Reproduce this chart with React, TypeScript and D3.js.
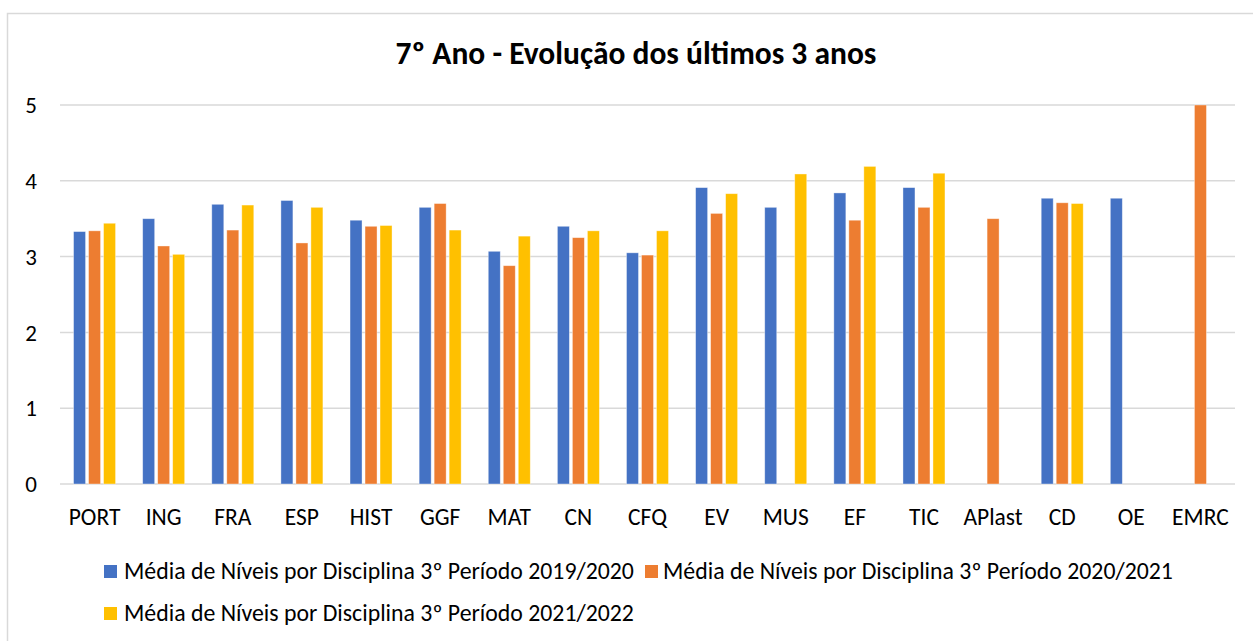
import React from "react";
import * as d3 from "d3";

const categories = ["PORT", "ING", "FRA", "ESP", "HIST", "GGF", "MAT", "CN", "CFQ", "EV", "MUS", "EF", "TIC", "APlast", "CD", "OE", "EMRC"];
const series2019 = [3.33, 3.50, 3.69, 3.74, 3.48, 3.65, 3.07, 3.40, 3.05, 3.91, 3.65, 3.84, 3.91, null, 3.77, 3.77, null];
const series2020 = [3.34, 3.14, 3.35, 3.18, 3.40, 3.70, 2.88, 3.25, 3.02, 3.57, null, 3.48, 3.65, 3.50, 3.71, null, 5.0];
const series2021 = [3.44, 3.03, 3.68, 3.65, 3.41, 3.35, 3.27, 3.34, 3.34, 3.83, 4.09, 4.19, 4.10, null, 3.70, null, null];
const seriesNames = [
  "Média de Níveis por Disciplina 3º Período 2019/2020",
  "Média de Níveis por Disciplina 3º Período 2020/2021",
  "Média de Níveis por Disciplina 3º Período 2021/2022",
];
const seriesColors = ["#4472C4", "#ED7D31", "#FFC000"];
const yTicks = [0, 1, 2, 3, 4, 5];
const title = "7º Ano - Evolução dos últimos 3 anos";

const FONT = "Calibri, Carlito, Lato, 'Open Sans', sans-serif";

export default function App() {
  const W = 1253, H = 641;
  const plotLeft = 60, plotRight = 1235, plotTop = 105, plotBottom = 484;
  const x = d3.scaleBand<string>().domain(categories).range([plotLeft, plotRight]).padding(0);
  const y = d3.scaleLinear().domain([0, 5]).range([plotBottom, plotTop]);
  const keys = ["a", "b", "c"];
  const xs = d3.scaleBand<string>().domain(keys).range([-21, 21]).paddingInner(0.2);
  const allSeries = [series2019, series2020, series2021];

  return (
    <svg width={W} height={H} style={{ position: "absolute", left: 0, top: 0, background: "#fff" }}>
      <rect x={0} y={0} width={W} height={H} fill="#fff" />
      <path d={`M7.5,${H} V13.5 H${W}`} fill="none" stroke="#d9d9d9" strokeWidth={1.5} />
      <text x={636} y={64} textAnchor="middle" fontFamily={FONT} fontWeight="bold" fontSize={31.5} fill="#000">{title}</text>
      {yTicks.map((t) => (
        <g key={t}>
          <line x1={plotLeft} x2={plotRight} y1={y(t)} y2={y(t)} stroke="#d9d9d9" strokeWidth={1.5} />
          <text x={37} y={y(t)} dy="0.36em" textAnchor="end" fontFamily={FONT} fontSize={23} fill="#000">{t}</text>
        </g>
      ))}
      {allSeries.map((s, si) => (
        <g key={si}>
          {s.map((v, i) =>
            v == null ? null : (
              <rect
                key={i}
                x={(x(categories[i]) as number) + x.bandwidth() / 2 + (xs(keys[si]) as number)}
                y={y(v)}
                width={xs.bandwidth()}
                height={y(0) - y(v)}
                fill={seriesColors[si]}
                stroke="#fff"
                strokeOpacity={0.5}
                strokeWidth={0.75}
              />
            )
          )}
        </g>
      ))}
      {categories.map((c) => (
        <text key={c} x={(x(c) as number) + x.bandwidth() / 2} y={525} textAnchor="middle" fontFamily={FONT} fontSize={23.5} fill="#000">{c}</text>
      ))}
      {[
        { sx: 104, sy: 565, tx: 124, ty: 579 },
        { sx: 645, sy: 565, tx: 663, ty: 579 },
        { sx: 104, sy: 607, tx: 124, ty: 621 },
      ].map((p, i) => (
        <g key={i}>
          <rect x={p.sx} y={p.sy} width={13} height={13} fill={seriesColors[i]} />
          <text x={p.tx} y={p.ty} fontFamily={FONT} fontSize={23.8} fill="#000">{seriesNames[i]}</text>
        </g>
      ))}
    </svg>
  );
}
